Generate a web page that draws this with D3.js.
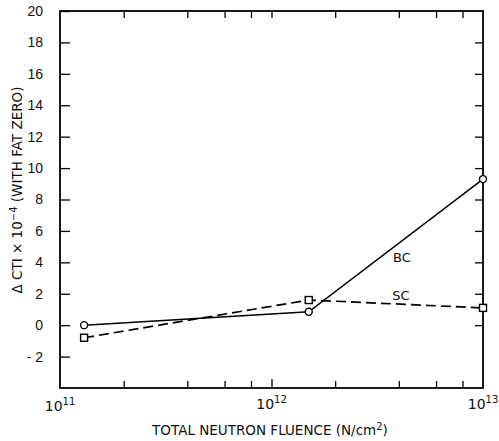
<!DOCTYPE html>
<html>
<head>
<meta charset="utf-8">
<script src="https://cdn.jsdelivr.net/npm/d3@7"></script>
<style>
  body { margin: 0; background: #fff; }
  svg { font-family: "DejaVu Sans", sans-serif; }
</style>
</head>
<body>
<svg id="chart" width="499" height="441"></svg>
<script>
// fluence values (N/cm^2)
let fluence = [1.3e11, 1.5e12, 1e13];
let bcValues = [0.0, 0.85, 9.3];
let scValues = [-0.8, 1.6, 1.1];
let yTicks = [-2, 0, 2, 4, 6, 8, 10, 12, 14, 16, 18, 20];
let xMajor = [1e11, 1e12, 1e13];
let xMinor = [2e11, 4e11, 6e11, 8e11, 2e12, 4e12, 6e12, 8e12];

let plotLeft = 60, plotRight = 483, plotTop = 11, plotBottom = 388;

let svg = d3.select("#chart");

let xScale = d3.scaleLog().domain([1e11, 1e13]).range([plotLeft, plotRight]);
let yScale = d3.scaleLinear().domain([-4, 20]).range([plotBottom, plotTop]);

// frame
svg.append("rect")
    .attr("x", plotLeft).attr("y", plotTop)
    .attr("width", plotRight - plotLeft).attr("height", plotBottom - plotTop)
    .attr("fill", "none").attr("stroke", "#000").attr("stroke-width", 1.8);

// left axis, ticks pointing inward
let yAxis = d3.axisLeft(yScale).tickValues(yTicks).tickSize(-10).tickPadding(17)
    .tickFormat(d => d < 0 ? "- " + Math.abs(d) : d);
svg.append("g")
    .attr("transform", "translate(" + plotLeft + ",0)")
    .call(yAxis)
    .call(g => g.select(".domain").remove())
    .call(g => g.selectAll("line").attr("stroke-width", 1.3))
    .call(g => g.selectAll("text").attr("font-size", 14).attr("fill", "#111"));

// right axis, ticks inward, no labels
svg.append("g")
    .attr("transform", "translate(" + plotRight + ",0)")
    .call(d3.axisRight(yScale).tickValues(yTicks.slice(1, -1)).tickSize(-8).tickFormat(""))
    .call(g => g.select(".domain").remove())
    .call(g => g.selectAll("line").attr("stroke-width", 1.3));

// bottom axis minor + major ticks inward
svg.append("g")
    .attr("transform", "translate(0," + plotBottom + ")")
    .call(d3.axisBottom(xScale).tickValues(xMinor).tickSize(-7).tickFormat(""))
    .call(g => g.select(".domain").remove())
    .call(g => g.selectAll("line").attr("stroke-width", 1.3));
svg.append("g")
    .attr("transform", "translate(0," + plotBottom + ")")
    .call(d3.axisBottom(xScale).tickValues([1e12]).tickSize(-9).tickFormat(""))
    .call(g => g.select(".domain").remove())
    .call(g => g.selectAll("line").attr("stroke-width", 1.3));

// top axis ticks inward
svg.append("g")
    .attr("transform", "translate(0," + plotTop + ")")
    .call(d3.axisTop(xScale).tickValues(xMinor.concat([1e12])).tickSize(-7).tickFormat(""))
    .call(g => g.select(".domain").remove())
    .call(g => g.selectAll("line").attr("stroke-width", 1.3));

// x tick labels with exponents
let xLabels = svg.append("g").selectAll("text")
    .data(xMajor)
    .enter()
    .append("text")
    .attr("x", d => xScale(d))
    .attr("y", d => d === 1e11 ? 411 : 409)
    .attr("text-anchor", "middle")
    .attr("font-size", 14)
    .attr("fill", "#111");
xLabels.append("tspan").text("10");
xLabels.append("tspan").attr("dy", -6).attr("font-size", 10)
    .text(d => Math.round(Math.log10(d)));

// axis titles
let xt = svg.append("text")
    .attr("x", 270).attr("y", 435)
    .attr("text-anchor", "middle")
    .attr("font-size", 13.5)
    .attr("fill", "#111");
xt.append("tspan").text("TOTAL NEUTRON FLUENCE (N/cm");
xt.append("tspan").attr("dy", -5).attr("font-size", 10).text("2");
xt.append("tspan").attr("dy", 5).text(")");

let yt = svg.append("text")
    .attr("transform", "translate(22," + 190 + ") rotate(-90)")
    .attr("text-anchor", "middle")
    .attr("font-size", 13.5)
    .attr("fill", "#111");
yt.append("tspan").text("\u0394 CTI \u00d7 10");
yt.append("tspan").attr("dy", -5).attr("font-size", 10).text("\u22124");
yt.append("tspan").attr("dy", 5).text(" (WITH FAT ZERO)");

let bcData = fluence.map((f, i) => [f, bcValues[i]]);
let scData = fluence.map((f, i) => [f, scValues[i]]);

let line = d3.line().x(d => xScale(d[0])).y(d => yScale(d[1]));

svg.append("path")
    .datum(scData)
    .attr("d", line)
    .attr("fill", "none").attr("stroke", "#000").attr("stroke-width", 1.7)
    .attr("stroke-dasharray", "10,5");

svg.append("path")
    .datum(bcData)
    .attr("d", line)
    .attr("fill", "none").attr("stroke", "#000").attr("stroke-width", 1.5);

svg.selectAll("circle.bc")
    .data(bcData)
    .enter()
    .append("circle")
    .attr("class", "bc")
    .attr("cx", d => xScale(d[0]))
    .attr("cy", d => yScale(d[1]))
    .attr("r", 3.5)
    .attr("fill", "#fff").attr("stroke", "#000").attr("stroke-width", 1.4);

svg.selectAll("rect.sc")
    .data(scData)
    .enter()
    .append("rect")
    .attr("class", "sc")
    .attr("x", d => xScale(d[0]) - 3.5)
    .attr("y", d => yScale(d[1]) - 3.5)
    .attr("width", 7).attr("height", 7)
    .attr("fill", "#fff").attr("stroke", "#000").attr("stroke-width", 1.4);

// series labels
svg.append("text").attr("x", 402).attr("y", 262)
    .attr("text-anchor", "middle").attr("font-size", 13).attr("fill", "#111").text("BC");
svg.append("text").attr("x", 401).attr("y", 300)
    .attr("text-anchor", "middle").attr("font-size", 13).attr("fill", "#111").text("SC");
</script>
</body>
</html>
